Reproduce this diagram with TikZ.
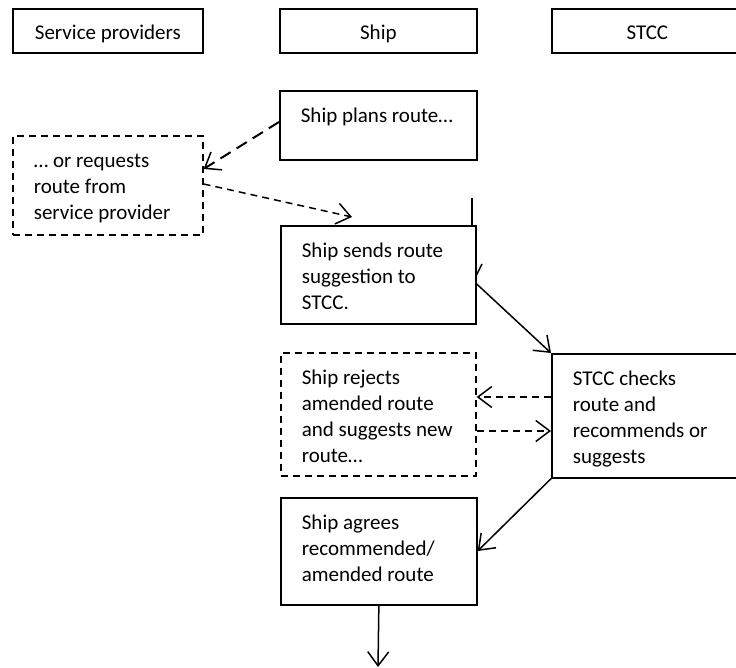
\documentclass[tikz,border=0pt]{standalone}
\usepackage{fontspec}
\setmainfont{Carlito}
\usetikzlibrary{arrows.meta,calc}
\newcommand\bxt[3]{\begin{minipage}[t][#2][t]{#1}\parindent=0pt\leftskip=21pt\rightskip=0pt plus 1fil\rule{0pt}{32pt}#3\end{minipage}}
\newcommand\hdt[3]{\begin{minipage}[t][#2][t]{#1}\parindent=0pt\centering\rule{0pt}{31pt}#3\end{minipage}}
\tikzset{
  box/.style={draw, line width=1.7pt, inner sep=0pt, anchor=north west, font=\fontsize{21}{26}\selectfont},
  dbox/.style={box, line width=1.6pt, dash pattern=on 7pt off 5pt},
  conn/.style={line width=1.5pt, -{Straight Barb[length=14pt,width=21pt,line width=1.5pt]}},
  dconn/.style={conn, dash pattern=on 7pt off 5pt},
  dconnb/.style={conn, line width=2pt, dash pattern=on 12pt off 7pt},
}
\begin{document}
\begin{tikzpicture}[x=1pt,y=-1pt]
\useasboundingbox (0,0) rectangle (736,668);
\clip (0,0) rectangle (736,668);
% headers
\node[box] (hsp) at (12,8) {\hdt{190pt}{44pt}{Service providers}};
\node[box] (hship) at (279,8) {\hdt{197pt}{44pt}{Ship}};
\node[box] (hstcc) at (551,8) {\hdt{191pt}{44pt}{STCC}};
% process boxes
\node[box] (plan) at (279,90) {\bxt{197pt}{69pt}{Ship plans route…}};
\node[dbox] (req) at (12,135) {\bxt{190pt}{99pt}{… or requests\\route from\\service provider}};
\node[box] (send) at (280,225) {\bxt{195pt}{98pt}{Ship sends route\\suggestion to\\STCC.}};
\node[dbox] (rej) at (280,352) {\bxt{195pt}{123pt}{Ship rejects\\amended route\\and suggests new\\route…}};
\node[box] (chk) at (551,353) {\bxt{191pt}{124pt}{STCC checks\\route and\\recommends or\\suggests}};
\node[box] (agr) at (280,497) {\bxt{196pt}{107pt}{Ship agrees\\recommended/\\amended route}};
% free ends
\coordinate (e2) at (352,217);
\coordinate (v1) at (472,198);
\coordinate (t1) at (476,276);
\coordinate (t2) at (482,264);
\coordinate (fin) at (378,667);
% connectors
\draw[dconnb] ([yshift=-32pt]plan.north west) -- ([yshift=-34pt]req.north east);
\draw[dconn] ([yshift=-49pt]req.north east) -- (e2);
\draw[line width=1.5pt] (v1) -- (v1 |- send.north);
\draw[line width=1.5pt] (t1) -- (t2);
\draw[conn] ([yshift=-59pt]send.north east) -- (chk.north west);
\draw[dconn] ([yshift=-44pt]chk.north west) -- ([yshift=-45pt]rej.north east);
\draw[dconn] ([yshift=-79pt]rej.north east) -- ([yshift=-78pt]chk.north west);
\draw[conn] (chk.south west) -- ([yshift=-54pt]agr.north east);
\draw[conn] (agr.south) -- (fin);
\end{tikzpicture}
\end{document}
